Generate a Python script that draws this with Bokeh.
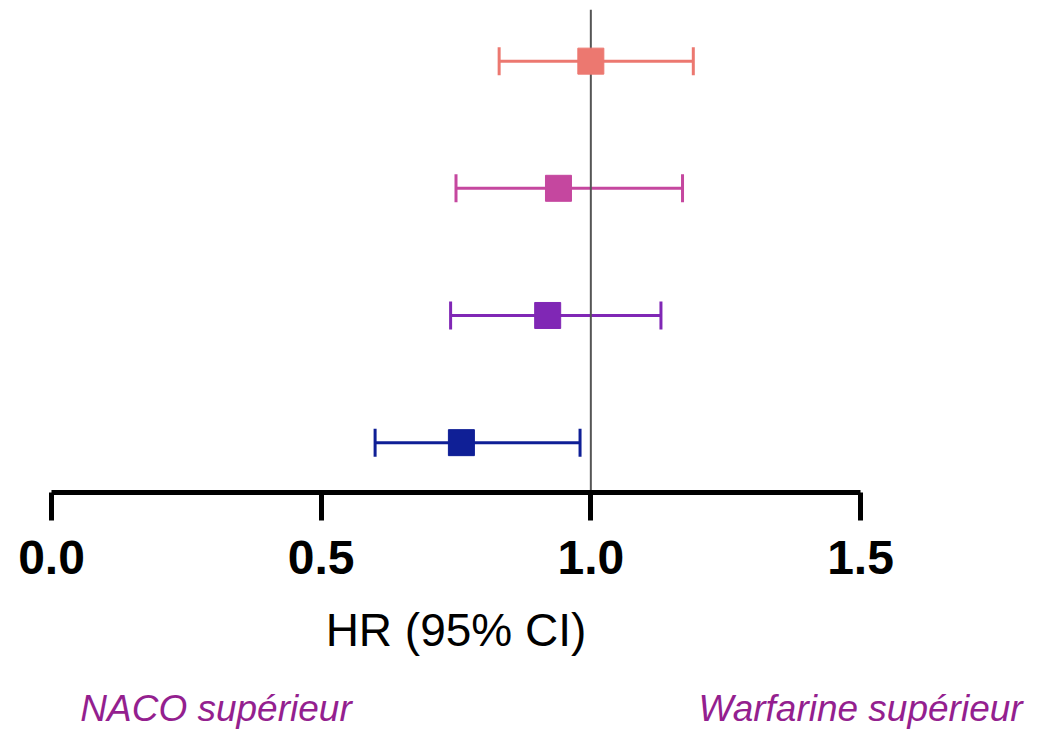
from bokeh.plotting import figure
from bokeh.models import ColumnDataSource, Range1d, FixedTicker, NumeralTickFormatter, LinearAxis
from bokeh.embed import file_html
from bokeh.resources import INLINE
import math

# Data (top to bottom)
rows = [4, 3, 2, 1]
hr = [1.00, 0.94, 0.92, 0.76]
lower = [0.83, 0.75, 0.74, 0.60]
upper = [1.19, 1.17, 1.13, 0.98]
colors = ["#ec7870", "#c5479f", "#8027b5", "#0f1f96"]
x_ticks = [0.0, 0.5, 1.0, 1.5]
ref_value = 1.0
notes = ["NACO supérieur", "Warfarine supérieur"]
note_pos = [0.305, 1.5]
x_title = "HR (95% CI)"

src = ColumnDataSource(dict(y=rows, hr=hr, lower=lower, upper=upper, color=colors))

W, H = 1040, 731
FH = 485
y0, y1 = 0.608, 4.406
p = figure(width=W, height=H, output_backend="svg", toolbar_location=None,
           x_range=Range1d(0, 1.5), y_range=Range1d(y0, y1),
           y_axis_location=None, min_border_left=51, min_border_right=W - 51 - 809,
           min_border_top=9, min_border_bottom=H - 9 - FH)
p.outline_line_color = None
p.grid.visible = False

# Error bars
p.segment(x0="lower", y0="y", x1="upper", y1="y", line_color="color", line_width=3, source=src)
p.scatter(x="lower", y="y", marker="dash", angle=math.pi / 2, size=28, line_color="color",
          line_width=3, source=src)
p.scatter(x="upper", y="y", marker="dash", angle=math.pi / 2, size=28, line_color="color",
          line_width=3, source=src)

# Reference line
p.segment(x0=[ref_value], y0=[y0], x1=[ref_value], y1=[y1], line_color="#555555", line_width=2)

# Point estimates
p.scatter(x="hr", y="y", marker="square", size=26, fill_color="color", line_color="color", source=src)

ax = p.xaxis[0]
ax.ticker = FixedTicker(ticks=x_ticks)
ax.formatter = NumeralTickFormatter(format="0.0")
ax.minor_tick_line_color = None
ax.axis_line_width = 5
ax.axis_line_color = "black"
ax.major_tick_line_width = 5
ax.major_tick_line_color = "black"
ax.major_tick_out = 28
ax.major_tick_in = 0
ax.major_label_text_font = "Liberation Sans"
ax.major_label_text_font_style = "bold"
ax.major_label_text_font_size = "48px"
ax.major_label_text_color = "black"
ax.major_label_standoff = 20
ax.axis_label = x_title
ax.axis_label_text_font = "Liberation Sans"
ax.axis_label_text_font_style = "normal"
ax.axis_label_text_font_size = "46px"
ax.axis_label_text_color = "black"
ax.axis_label_standoff = 27

# Notes as a second, line-less axis
nax = LinearAxis(ticker=FixedTicker(ticks=note_pos),
                 major_label_overrides={k: v for k, v in zip(note_pos, notes)})
nax.axis_line_color = None
nax.major_tick_line_color = None
nax.minor_tick_line_color = None
nax.major_tick_out = 0
nax.major_tick_in = 0
nax.major_label_standoff = 29
nax.major_label_text_font = "Liberation Sans"
nax.major_label_text_font_style = "italic"
nax.major_label_text_font_size = "37px"
nax.major_label_text_color = "#941f8f"
p.add_layout(nax, "below")

open("out.html", "w").write(file_html(p, INLINE))
